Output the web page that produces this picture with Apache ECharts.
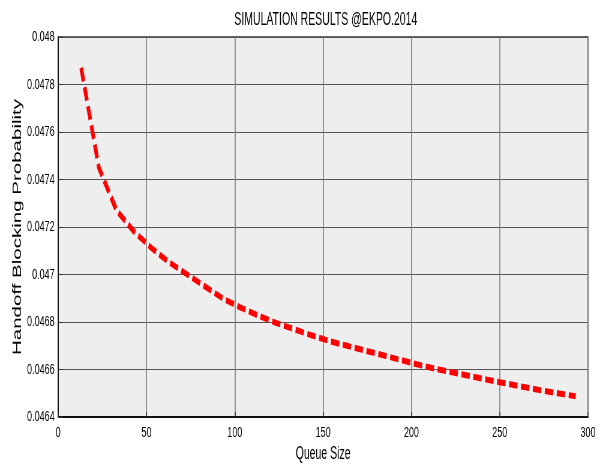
<!DOCTYPE html>
<html><head><meta charset="utf-8">
<script src="https://cdn.jsdelivr.net/npm/echarts@6/dist/echarts.min.js"></script>
<style>
html,body{margin:0;padding:0;background:#fff;overflow:hidden;width:608px;height:470px}
#c{width:1013px;height:470px;transform:scaleX(0.6);transform-origin:0 0}
</style>
</head><body><div id="c"></div>
<script>
const queueSize = [13, 23, 33, 43, 53, 63, 73, 83, 93, 103, 113, 123, 133, 143, 153, 163, 173, 183, 193, 203, 213, 223, 233, 243, 253, 263, 273, 283, 293];
const blockingProb = [0.04787, 0.04745, 0.04727, 0.04718, 0.04711, 0.04705, 0.04700, 0.04695, 0.04690, 0.046862, 0.046828, 0.046797, 0.046771, 0.046745, 0.046721, 0.046701, 0.046681, 0.046662, 0.046642, 0.046622, 0.046604, 0.046588, 0.046573, 0.046557, 0.046542, 0.046527, 0.046513, 0.046500, 0.046487];
const xTicks = [0, 50, 100, 150, 200, 250, 300];
const yTicks = [0.0464, 0.0466, 0.0468, 0.047, 0.0472, 0.0474, 0.0476, 0.0478, 0.048];

const sans = "'Liberation Sans', Arial, sans-serif";
const chart = echarts.init(document.getElementById('c'), null, {renderer: 'canvas'});
chart.setOption({
  animation: false,
  backgroundColor: '#ffffff',
  title: {
    text: 'SIMULATION RESULTS @EKPO.2014',
    left: 538, top: 6, textAlign: 'center',
    textStyle: {fontFamily: sans, fontSize: 17.5, fontWeight: 'normal', color: '#000'}
  },
  grid: {left: 97, right: 33, top: 37, bottom: 53, outerBoundsMode: 'none', containLabel: false,
         show: true, backgroundColor: '#eeeeee', borderColor: '#333', borderWidth: 1.5},
  xAxis: {
    type: 'value', min: xTicks[0], max: xTicks[xTicks.length - 1], interval: 50,
    name: 'Queue Size', nameLocation: 'middle', nameGap: 28, nameMoveOverlap: false,
    nameTextStyle: {fontFamily: sans, fontSize: 17.5, color: '#000'},
    axisLine: {show: true, onZero: false, lineStyle: {color: '#111', width: 2}},
    axisTick: {show: true, inside: true, length: 5, lineStyle: {color: '#333', width: 1.5}},
    axisLabel: {fontFamily: sans, fontSize: 15, color: '#000', margin: 8},
    splitLine: {show: true, lineStyle: {color: '#7a7a7a', width: 1.6}}
  },
  yAxis: {
    type: 'value', min: yTicks[0], max: yTicks[yTicks.length - 1], interval: 0.0002,
    name: 'Handoff Blocking Probability', nameLocation: 'middle', nameGap: 57, nameMoveOverlap: false,
    nameTextStyle: {fontFamily: sans, fontSize: 20.5, color: '#000'},
    axisLine: {show: true, onZero: false, lineStyle: {color: '#111', width: 2}},
    axisTick: {show: true, inside: true, length: 8, lineStyle: {color: '#333', width: 1}},
    axisLabel: {fontFamily: sans, fontSize: 15, color: '#000', margin: 6, formatter: v => String(+v.toFixed(4))},
    splitLine: {show: true, lineStyle: {color: '#555', width: 1}}
  },
  series: [{
    type: 'line',
    data: queueSize.map((x, i) => [x, blockingProb[i]]),
    symbol: 'none',
    smooth: false,
    lineStyle: {color: '#ff0000', width: 6, type: [14, 6], cap: 'butt'}
  }]
});
</script></body></html>
